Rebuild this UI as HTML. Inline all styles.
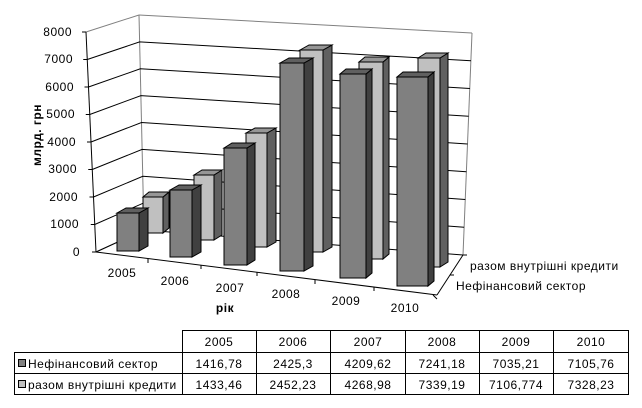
<!DOCTYPE html>
<html><head><meta charset="utf-8"><style>
body{margin:0;background:#fff;width:642px;height:408px;overflow:hidden;font-family:"Liberation Sans",sans-serif}
svg{position:absolute;left:0;top:0}
</style></head><body>
<svg width="642" height="408" viewBox="0 0 642 408" font-family="Liberation Sans, sans-serif" font-size="12" letter-spacing="0.5">
<g stroke="#808080" fill="none" stroke-width="1">
<line x1="86" y1="32" x2="139" y2="15"/>
<line x1="139" y1="15" x2="472" y2="33"/>
<line x1="139" y1="15" x2="144" y2="230"/>
<line x1="472" y1="33" x2="463" y2="255"/>
<line x1="96" y1="252" x2="144" y2="230"/>
</g>
<g stroke="#000" stroke-width="1" fill="none">
<polyline points="96,252 144,230 463,255"/>
<polyline points="94.75,224.5 143.4,203.1 464.1,227.3"/>
<polyline points="93.5,197 142.8,176.3 465.3,199.5"/>
<polyline points="92.25,169.5 142.1,149.4 466.4,171.8"/>
<polyline points="91,142 141.5,122.5 467.5,144"/>
<polyline points="89.75,114.5 140.9,95.6 468.6,116.3"/>
<polyline points="88.5,87 140.3,68.8 469.9,88.5"/>
<polyline points="87.25,59.5 139.6,41.9 471,60.8"/>
<line x1="96" y1="252" x2="86" y2="32"/>
<line x1="96" y1="252" x2="437" y2="295"/>
<line x1="437" y1="295" x2="463" y2="255"/>
<line x1="92" y1="252" x2="96" y2="252"/><line x1="90.75" y1="224.5" x2="94.75" y2="224.5"/>
<line x1="89.5" y1="197" x2="93.5" y2="197"/><line x1="88.25" y1="169.5" x2="92.25" y2="169.5"/>
<line x1="87" y1="142" x2="91" y2="142"/><line x1="85.75" y1="114.5" x2="89.75" y2="114.5"/>
<line x1="84.5" y1="87" x2="88.5" y2="87"/><line x1="83.25" y1="59.5" x2="87.25" y2="59.5"/>
<line x1="82" y1="32" x2="86" y2="32"/>
<line x1="148" y1="259" x2="148" y2="263"/><line x1="201" y1="265" x2="201" y2="269"/>
<line x1="257" y1="272" x2="257" y2="276"/><line x1="315" y1="280" x2="315" y2="284"/>
<line x1="374" y1="287" x2="374" y2="291"/><line x1="433" y1="295" x2="437" y2="299"/>
<line x1="450" y1="275" x2="454" y2="275"/><line x1="463" y1="255" x2="467" y2="255"/>
</g>
<g stroke="#000" stroke-width="1">
<g>
<rect x="143" y="197" width="20" height="36" fill="#c0c0c0"/><polygon points="163,197 169,192 169,228 163,233" fill="#606060"/><polygon points="143,197 149,192 169,192 163,197" fill="#969696"/>
<rect x="194" y="175" width="20" height="65" fill="#c0c0c0"/><polygon points="214,175 222,170 222,235 214,240" fill="#606060"/><polygon points="194,175 202,170 222,170 214,175" fill="#969696"/>
<rect x="246" y="133" width="21" height="114" fill="#c0c0c0"/><polygon points="267,133 276,128 276,242 267,247" fill="#606060"/><polygon points="246,133 255,128 276,128 267,133" fill="#969696"/>
<rect x="300" y="50" width="23" height="202" fill="#c0c0c0"/><polygon points="323,50 332,45 332,247 323,252" fill="#606060"/><polygon points="300,50 309,45 332,45 323,50" fill="#969696"/>
<rect x="359" y="62" width="24" height="197" fill="#c0c0c0"/><polygon points="383,62 389,57 389,254 383,259" fill="#606060"/><polygon points="359,62 365,57 389,57 383,62" fill="#969696"/>
<rect x="418" y="58" width="22" height="209" fill="#c0c0c0"/><polygon points="440,58 448,53 448,262 440,267" fill="#606060"/><polygon points="418,58 426,53 448,53 440,58" fill="#969696"/>
</g>
<g>
<rect x="117" y="213" width="22" height="38" fill="#808080"/><polygon points="139,213 148,208 148,246 139,251" fill="#404040"/><polygon points="117,213 126,208 148,208 139,213" fill="#606060"/>
<rect x="170" y="190" width="22" height="67" fill="#808080"/><polygon points="192,190 201,185 201,252 192,257" fill="#404040"/><polygon points="170,190 179,185 201,185 192,190" fill="#606060"/>
<rect x="224" y="148" width="23" height="117" fill="#808080"/><polygon points="247,148 255,143 255,260 247,265" fill="#404040"/><polygon points="224,148 232,143 255,143 247,148" fill="#606060"/>
<rect x="280" y="63" width="24" height="208" fill="#808080"/><polygon points="304,63 313,58 313,266 304,271" fill="#404040"/><polygon points="280,63 289,58 313,58 304,63" fill="#606060"/>
<rect x="340" y="74" width="26" height="204" fill="#808080"/><polygon points="366,74 372,69 372,273 366,278" fill="#404040"/><polygon points="340,74 346,69 372,69 366,74" fill="#606060"/>
<rect x="397" y="77" width="31" height="209" fill="#808080"/><polygon points="428,77 434,72 434,281 428,286" fill="#404040"/><polygon points="397,77 403,72 434,72 428,77" fill="#606060"/>
</g>
</g>
<g text-anchor="end">
<text x="80" y="256">0</text><text x="79" y="228">1000</text><text x="78" y="201">2000</text>
<text x="77" y="173">3000</text><text x="76" y="146">4000</text><text x="75" y="118">5000</text>
<text x="74" y="91">6000</text><text x="73" y="63">7000</text><text x="72" y="36">8000</text>
</g>
<text transform="translate(41,135) rotate(-90)" text-anchor="middle" font-weight="bold">млрд. грн</text>
<g text-anchor="middle">
<text x="122" y="277">2005</text><text x="175" y="285">2006</text><text x="230" y="292">2007</text>
<text x="286" y="298">2008</text><text x="346" y="305">2009</text><text x="405" y="312">2010</text>
<text x="225" y="312" font-weight="bold">рік</text>
</g>
<text x="470" y="270">разом внутрішні кредити</text>
<text x="456" y="290">Нефінансовий сектор</text>
<g stroke="#000" stroke-width="1" fill="none">
<rect x="182.5" y="330.5" width="446" height="64"/>
<rect x="14.5" y="352.5" width="614" height="42"/>
<line x1="14.5" y1="373.5" x2="628.5" y2="373.5"/>
<line x1="182.5" y1="352.5" x2="182.5" y2="394.5"/>
<line x1="256.5" y1="330.5" x2="256.5" y2="394.5"/>
<line x1="330.5" y1="330.5" x2="330.5" y2="394.5"/>
<line x1="405.5" y1="330.5" x2="405.5" y2="394.5"/>
<line x1="479.5" y1="330.5" x2="479.5" y2="394.5"/>
<line x1="553.5" y1="330.5" x2="553.5" y2="394.5"/>
<rect x="18.5" y="359.5" width="7" height="7" fill="#808080"/>
<rect x="18.5" y="380.5" width="7" height="7" fill="#c0c0c0"/>
</g>
<g text-anchor="middle">
<text x="219" y="346">2005</text><text x="293" y="346">2006</text><text x="368" y="346">2007</text>
<text x="442" y="346">2008</text><text x="516" y="346">2009</text><text x="591" y="346">2010</text>
<text x="219" y="368">1416,78</text><text x="293" y="368">2425,3</text><text x="368" y="368">4209,62</text>
<text x="442" y="368">7241,18</text><text x="516" y="368">7035,21</text><text x="591" y="368">7105,76</text>
<text x="219" y="389">1433,46</text><text x="293" y="389">2452,23</text><text x="368" y="389">4268,98</text>
<text x="442" y="389">7339,19</text><text x="516" y="389">7106,774</text><text x="591" y="389">7328,23</text>
</g>
<text x="28" y="368">Нефінансовий сектор</text>
<text x="28" y="389">разом внутрішні кредити</text>
</svg>
</body></html>
